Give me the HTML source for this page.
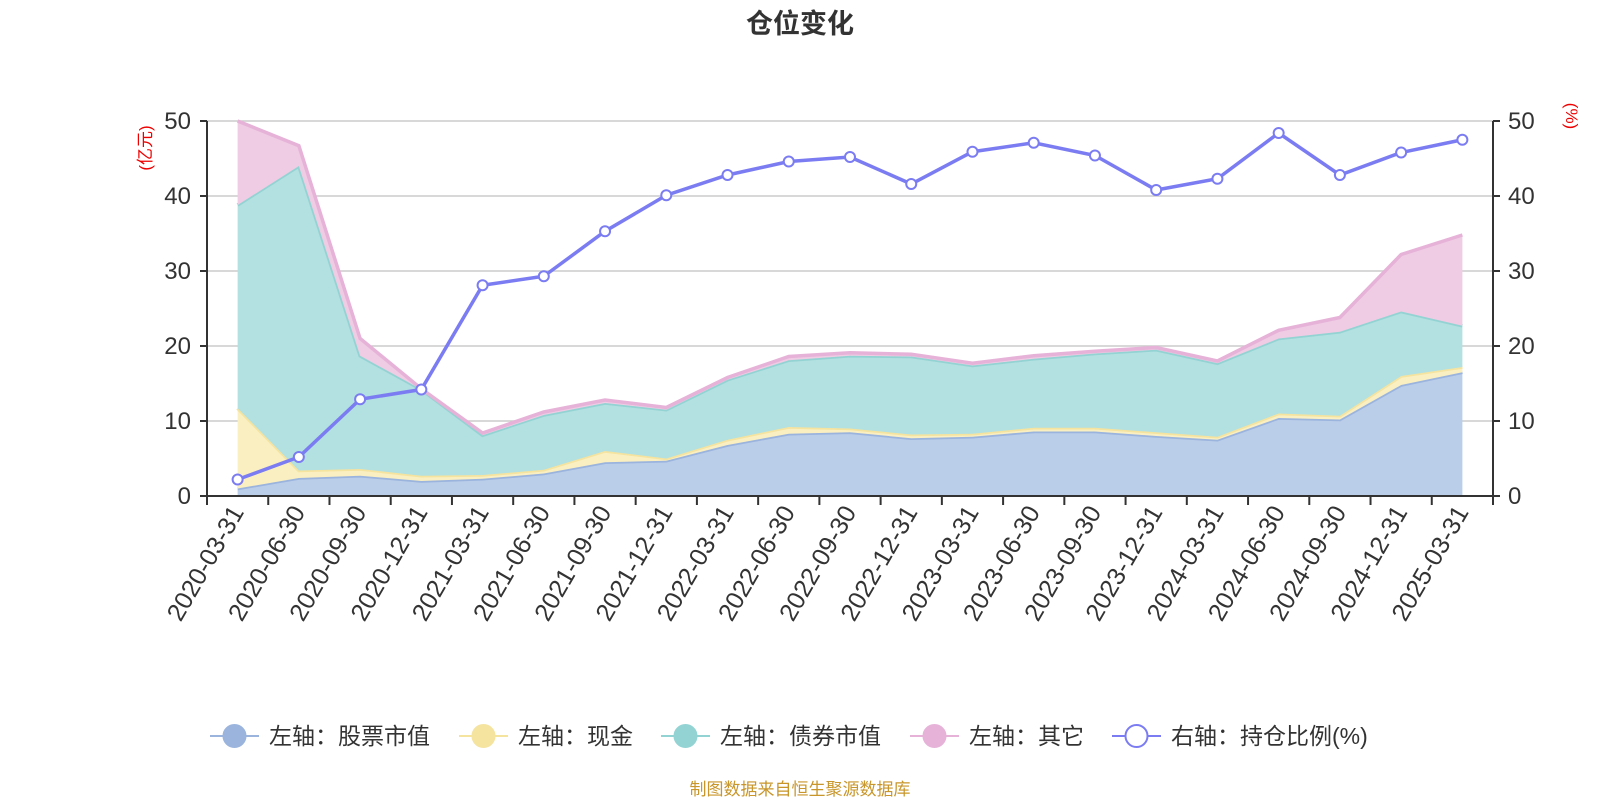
<!DOCTYPE html>
<html><head><meta charset="utf-8">
<style>
body{margin:0;background:#fff;font-family:"Liberation Sans","Noto Sans CJK SC",sans-serif;}
svg text{font-family:"Liberation Sans","Noto Sans CJK SC",sans-serif;}
</style></head>
<body>
<svg id="chart" width="1600" height="800" xmlns="http://www.w3.org/2000/svg">
<text x="800" y="33" text-anchor="middle" font-size="27" font-weight="bold" fill="#333">仓位变化</text>
<g id="grid"></g>
<g id="areas"></g>
<g id="axes"></g>
<g id="line"></g>
<text transform="translate(151,148) rotate(-90)" text-anchor="middle" font-size="17" fill="#e00">(亿元)</text>
<text transform="translate(1566,116) rotate(90)" text-anchor="middle" font-size="17" fill="#e00">(%)</text>
<g id="legend"></g>
<text x="800" y="795" text-anchor="middle" font-size="17" fill="#c8962a">制图数据来自恒生聚源数据库</text>
</svg>
<script>
const categories=["2020-03-31","2020-06-30","2020-09-30","2020-12-31","2021-03-31","2021-06-30","2021-09-30","2021-12-31","2022-03-31","2022-06-30","2022-09-30","2022-12-31","2023-03-31","2023-06-30","2023-09-30","2023-12-31","2024-03-31","2024-06-30","2024-09-30","2024-12-31","2025-03-31"];
const stock=[1.0,2.4,2.7,2.0,2.3,3.0,4.5,4.7,6.8,8.3,8.5,7.7,7.9,8.6,8.6,8.0,7.5,10.4,10.2,14.8,16.5];
const cash=[10.7,1.0,0.9,0.7,0.5,0.5,1.5,0.3,0.7,0.9,0.5,0.5,0.4,0.5,0.5,0.5,0.4,0.6,0.5,1.2,0.7];
const bond=[27.1,40.6,15.1,11.5,5.3,7.3,6.4,6.5,8.0,8.9,9.7,10.4,9.1,9.2,9.9,11.0,9.8,10.0,11.2,8.6,5.5];
const other=[11.2,2.7,2.3,0.1,0.3,0.4,0.4,0.3,0.3,0.5,0.4,0.3,0.3,0.4,0.3,0.3,0.3,1.1,1.9,7.6,12.1];
const ratio=[2.2,5.2,12.9,14.2,28.1,29.3,35.3,40.1,42.8,44.6,45.2,41.6,45.9,47.1,45.4,40.8,42.3,48.4,42.8,45.8,47.5];
const ticks=[0,10,20,30,40,50];
const NS="http://www.w3.org/2000/svg";
const X0=207,X1=1493,Y0=496,Y1=121;
const bw=(X1-X0)/categories.length;
const xp=i=>X0+bw*(i+0.5);
const yp=v=>Y0-(v/50)*(Y0-Y1);
function mk(p,t,a){const e=document.createElementNS(NS,t);for(const k in a)e.setAttribute(k,a[k]);document.getElementById(p).appendChild(e);return e;}
ticks.forEach(t=>{
  if(t>0){const g=mk('grid','line',{x1:X0,x2:X1,y1:yp(t),y2:yp(t),stroke:'#ccc','stroke-width':1.5});
  
  }
  const l=mk('axes','text',{x:191,y:yp(t)+8,'text-anchor':'end','font-size':24,fill:'#333'});l.textContent=t;
  
  
  const r=mk('axes','text',{x:1508,y:yp(t)+8,'font-size':24,fill:'#333'});r.textContent=t;
  
  
  mk('axes','line',{x1:X0-7,x2:X0,y1:yp(t),y2:yp(t),stroke:'#333','stroke-width':2});
  mk('axes','line',{x1:X1,x2:X1+7,y1:yp(t),y2:yp(t),stroke:'#333','stroke-width':2});
});
const series=[[stock,'#bacde9','#9ab4de','stock'],[cash,'#faefc1','#f5e3a0','cash'],[bond,'#b3e0e0','#93d3d3','bond'],[other,'#efcce4','#e6b2d8','other']];
let base=categories.map(()=>0);
series.forEach(s=>{
  const top=base.map((b,i)=>b+s[0][i]);
  let d='M'+categories.map((c,i)=>xp(i)+','+yp(top[i])).join('L');
  const back=categories.map((c,i)=>xp(i)+','+yp(base[i])).reverse().join('L');
  const a=mk('areas','path',{d:d+'L'+back+'Z',fill:s[1]});
  
  
  const ln=mk('areas','path',{d:d,fill:'none',stroke:s[2],'stroke-width':3.5});
  
  
  base=top;
});
mk('axes','line',{x1:X0,x2:X0,y1:Y1,y2:Y0,stroke:'#333','stroke-width':2});
mk('axes','line',{x1:X1,x2:X1,y1:Y1,y2:Y0+9,stroke:'#333','stroke-width':2});
mk('axes','line',{x1:X0,x2:X1,y1:Y0,y2:Y0,stroke:'#333','stroke-width':2});
for(let i=0;i<=categories.length;i++)mk('axes','line',{x1:X0+bw*i,x2:X0+bw*i,y1:Y0,y2:Y0+9,stroke:'#333','stroke-width':2});
categories.forEach((c,i)=>{
  const t=mk('axes','text',{transform:`translate(${xp(i)+7},${Y0+16}) rotate(-60)`,'text-anchor':'end','font-size':25,fill:'#333'});
  t.textContent=c;
  
  
});
const yr=v=>Y0-(v/50)*(Y0-Y1);
const pl=mk('line','path',{d:'M'+ratio.map((v,i)=>xp(i)+','+yr(v)).join('L'),fill:'none',stroke:'#7b7cf2','stroke-width':3.5});


ratio.forEach((v,i)=>{
  const c=mk('line','circle',{cx:xp(i),cy:yr(v),r:5,fill:'#fff',stroke:'#7b7cf2','stroke-width':2});
  
  
});
const leg=[['左轴：股票市值','#9ab4de',false,210],['左轴：现金','#f5e3a0',false,459],['左轴：债券市值','#93d3d3',false,661],['左轴：其它','#e6b2d8',false,910],['右轴：持仓比例(%)','#7b7cf2',true,1112]];
leg.forEach(l=>{
  const x=l[3],y=736;
  mk('legend','line',{x1:x,x2:x+49,y1:y,y2:y,stroke:l[1],'stroke-width':2});
  mk('legend','circle',{cx:x+24.5,cy:y,r:11,fill:l[2]?'#fff':l[1],stroke:l[1],'stroke-width':2});
  const t=mk('legend','text',{x:x+59,y:y+8,'font-size':23,fill:'#333'});t.textContent=l[0];
  
  
});
</script>
</body></html>
